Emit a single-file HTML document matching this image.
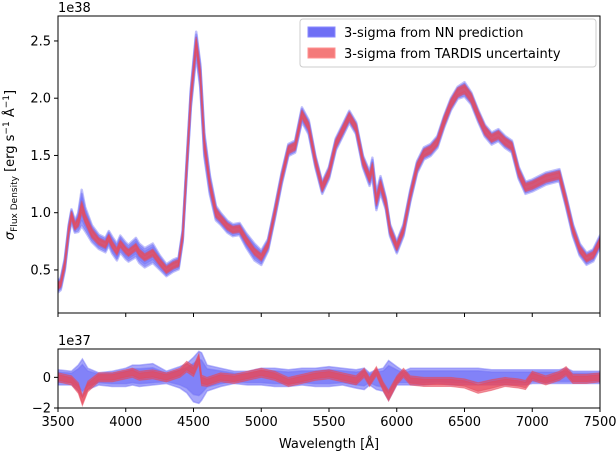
<!DOCTYPE html>
<html><head><meta charset="utf-8"><style>
body{margin:0;background:#fff;}
svg text{font-family:"DejaVu Sans","Liberation Sans",sans-serif;fill:#000;}
</style></head><body>
<svg id="chart" width="616" height="454" xmlns="http://www.w3.org/2000/svg">
<g id="topPanel"></g>
<g id="botPanel"></g>
<g>
<rect x="300" y="19" width="296" height="48" rx="3" fill="#fff" fill-opacity="0.8" stroke="#ccc"/>
<rect x="308" y="27" width="27" height="10" fill="#6f6ff5" stroke="#8888ff"/>
<text x="344" y="37" font-size="13">3-sigma from NN prediction</text>
<rect x="308" y="48" width="27" height="10" fill="#f47a7a" stroke="#ff9090"/>
<text x="344" y="58" font-size="13">3-sigma from TARDIS uncertainty</text>
</g>
</svg>
<script>
const wl=[3500,3520,3550,3580,3600,3625,3650,3675,3700,3750,3800,3850,3875,3900,3935,3960,4000,4020,4075,4100,4140,4200,4250,4300,4350,4390,4420,4450,4480,4520,4550,4580,4620,4665,4700,4750,4790,4840,4890,4950,5000,5050,5100,5150,5200,5250,5300,5350,5400,5450,5500,5550,5600,5650,5700,5750,5800,5820,5850,5880,5920,5950,6000,6050,6100,6150,6200,6250,6300,6350,6400,6450,6500,6550,6600,6650,6700,6750,6800,6850,6900,6950,7000,7100,7200,7250,7300,7350,7400,7450,7500];
const flux=[0.36,0.38,0.55,0.85,0.98,0.88,0.92,1.05,0.95,0.82,0.75,0.72,0.78,0.72,0.66,0.73,0.67,0.65,0.70,0.65,0.61,0.65,0.57,0.50,0.54,0.56,0.80,1.40,2.00,2.48,2.20,1.60,1.25,1.00,0.95,0.88,0.85,0.86,0.76,0.66,0.61,0.72,1.0,1.3,1.55,1.58,1.86,1.75,1.45,1.22,1.35,1.60,1.72,1.84,1.74,1.45,1.30,1.40,1.10,1.25,1.08,0.85,0.70,0.85,1.15,1.40,1.52,1.55,1.62,1.80,1.95,2.05,2.08,2.0,1.85,1.72,1.65,1.68,1.62,1.58,1.35,1.22,1.24,1.30,1.33,1.1,0.85,0.68,0.6,0.63,0.75];
const nnSig=[0.05,0.05,0.05,0.05,0.05,0.05,0.08,0.15,0.10,0.07,0.06,0.06,0.06,0.07,0.07,0.07,0.07,0.07,0.08,0.08,0.08,0.08,0.06,0.05,0.05,0.05,0.05,0.06,0.08,0.10,0.10,0.10,0.08,0.06,0.05,0.05,0.05,0.05,0.06,0.07,0.06,0.05,0.05,0.05,0.05,0.05,0.06,0.06,0.05,0.05,0.05,0.05,0.05,0.05,0.05,0.05,0.06,0.08,0.07,0.07,0.05,0.05,0.05,0.05,0.05,0.05,0.05,0.05,0.05,0.05,0.05,0.05,0.06,0.05,0.05,0.05,0.05,0.05,0.05,0.05,0.05,0.05,0.05,0.05,0.05,0.05,0.05,0.05,0.05,0.05,0.05];
const tdSig=[0.03,0.03,0.03,0.03,0.03,0.03,0.04,0.05,0.04,0.04,0.03,0.03,0.03,0.03,0.03,0.03,0.03,0.03,0.03,0.03,0.03,0.03,0.03,0.03,0.03,0.03,0.03,0.04,0.05,0.05,0.05,0.05,0.04,0.04,0.03,0.03,0.03,0.03,0.03,0.03,0.03,0.03,0.03,0.03,0.035,0.035,0.035,0.035,0.035,0.035,0.035,0.035,0.035,0.035,0.035,0.035,0.035,0.035,0.035,0.035,0.035,0.035,0.03,0.03,0.03,0.035,0.035,0.035,0.035,0.04,0.04,0.04,0.04,0.04,0.04,0.04,0.035,0.035,0.035,0.035,0.035,0.035,0.035,0.035,0.035,0.035,0.03,0.03,0.03,0.03,0.03];
const rwl=[3500,3600,3650,3680,3720,3800,3900,4000,4050,4100,4200,4300,4400,4450,4500,4540,4560,4600,4700,4800,4900,5000,5100,5200,5300,5400,5500,5600,5700,5760,5800,5850,5900,5940,6000,6050,6100,6200,6300,6400,6500,6600,6700,6800,6900,6950,7000,7100,7200,7250,7300,7400,7500];
const nnHi=[0.5,0.4,0.8,1.2,0.6,0.3,0.4,0.6,0.8,0.8,0.9,0.4,0.7,0.9,1.3,1.7,1.6,0.8,0.6,0.4,0.4,0.6,0.6,0.5,0.6,0.6,0.7,0.6,0.5,0.6,0.3,0.5,0.6,1.1,0.7,0.4,0.6,0.6,0.6,0.6,0.6,0.6,0.5,0.5,0.5,0.5,0.5,0.5,0.5,0.6,0.4,0.4,0.4];
const nnLo=[-0.5,-0.5,-0.9,-1.3,-0.8,-0.5,-0.6,-0.6,-0.5,-0.6,-0.5,-0.4,-0.7,-1.0,-1.6,-1.7,-1.5,-0.9,-0.6,-0.4,-0.5,-0.5,-0.6,-0.6,-0.5,-0.6,-0.6,-0.5,-0.7,-0.8,-0.5,-0.8,-0.9,-1.5,-0.5,-0.5,-0.5,-0.5,-0.4,-0.5,-0.5,-0.5,-0.5,-0.5,-0.5,-0.5,-0.4,-0.4,-0.4,-0.4,-0.4,-0.4,-0.4];
const tdMid=[0,-0.2,-0.7,-1.5,-0.6,0,0,0.2,0.3,0.1,0.2,0.0,0.3,0.7,0.4,1.2,-0.2,-0.3,0,-0.1,0.1,0.3,0.1,-0.3,-0.1,0.1,0.2,0,-0.2,0.3,-0.3,0.4,-0.6,-1.2,-0.2,0.3,-0.2,-0.3,-0.3,-0.3,-0.4,-0.7,-0.5,-0.3,-0.4,-0.5,0.1,-0.2,0.1,0.4,-0.1,-0.1,0];
const tdHalf=[0.3,0.3,0.35,0.35,0.35,0.3,0.3,0.3,0.3,0.3,0.3,0.3,0.3,0.35,0.35,0.35,0.35,0.3,0.3,0.3,0.3,0.3,0.3,0.3,0.3,0.3,0.3,0.3,0.3,0.3,0.3,0.3,0.3,0.35,0.3,0.3,0.3,0.3,0.3,0.3,0.3,0.35,0.35,0.3,0.3,0.3,0.3,0.3,0.3,0.3,0.3,0.3,0.3];
const xTicks=[3500,4000,4500,5000,5500,6000,6500,7000,7500];
const yTicks=[0.5,1.0,1.5,2.0,2.5];
const ryTicks=[-2,0];

const NS="http://www.w3.org/2000/svg";
const L=58,R=600,T=16,B=313,BT=349,BB=408;
const X=w=>L+(w-3500)*(R-L)/4000;
const Y=v=>B-(v-0.124)*(B-T)/(2.718-0.124);
const RY=v=>BB-(v+2)*(BB-BT)/3.85;
function mk(p,tag,a){const e=document.createElementNS(NS,tag);for(const k in a)e.setAttribute(k,a[k]);p.appendChild(e);return e;}
function band(xs,lo,hi,xf,yf){let d="M";xs.forEach((w,i)=>d+=xf(w).toFixed(1)+","+yf(hi[i]).toFixed(1)+" L");for(let i=xs.length-1;i>=0;i--)d+=xf(xs[i]).toFixed(1)+","+yf(lo[i]).toFixed(1)+(i?" L":" Z");return d;}
const topG=document.getElementById('topPanel'),botG=document.getElementById('botPanel');
mk(topG,'defs',{}).innerHTML='<clipPath id="ct"><rect x="58" y="16" width="542" height="297"/></clipPath><clipPath id="cb"><rect x="58" y="349" width="542" height="59"/></clipPath>';
const gt=mk(topG,'g',{'clip-path':'url(#ct)'});
for(const k of [1,0.75,0.5]){
const nb=mk(gt,'path',{d:band(wl,flux.map((f,i)=>f-nnSig[i]*k*1.1),flux.map((f,i)=>f+nnSig[i]*k),X,Y),fill:'#6b6bf7','fill-opacity':0.45,stroke:'#7474f7','stroke-width':2.5,'stroke-opacity':0.45,'stroke-linejoin':'round'});


}
for(const k of [1,0.6]){
const tb=mk(gt,'path',{d:band(wl,flux.map((f,i)=>f-tdSig[i]*k),flux.map((f,i)=>f+tdSig[i]*k),X,Y),fill:'#e84a5a','fill-opacity':0.55,stroke:'#e84a5a','stroke-width':1.5,'stroke-opacity':0.5,'stroke-linejoin':'round'});


}
const gb=mk(botG,'g',{'clip-path':'url(#cb)'});
for(const k of [1,0.7]){
const rb=mk(gb,'path',{d:band(rwl,nnLo.map(v=>v*k),nnHi.map(v=>v*k),X,RY),fill:'#6b6bf7','fill-opacity':0.6,stroke:'#7474f7','stroke-width':1.5,'stroke-opacity':0.5});


}
for(const k of [1,0.6]){
const rt=mk(gb,'path',{d:band(rwl,tdMid.map((m,i)=>m-tdHalf[i]*k),tdMid.map((m,i)=>m+tdHalf[i]*k),X,RY),fill:'#e8485a','fill-opacity':0.6,stroke:'#e8485a','stroke-width':1,'stroke-opacity':0.5});


}
const f1=mk(topG,'rect',{x:L,y:T,width:R-L,height:B-T,fill:'none',stroke:'#000','stroke-width':1});

const f2=mk(botG,'rect',{x:L,y:BT,width:R-L,height:BB-BT,fill:'none',stroke:'#000','stroke-width':1});

yTicks.forEach(v=>{mk(topG,'line',{x1:L-4,x2:L,y1:Y(v),y2:Y(v),stroke:'#000'});
const t=mk(topG,'text',{x:L-7,y:Y(v)+4.5,'text-anchor':'end','font-size':13});t.textContent=v.toFixed(1);
});
xTicks.forEach(v=>{mk(topG,'line',{x1:X(v),x2:X(v),y1:B,y2:B+4,stroke:'#000'});mk(botG,'line',{x1:X(v),x2:X(v),y1:BB,y2:BB+4,stroke:'#000'});
const t=mk(botG,'text',{x:X(v),y:BB+18,'text-anchor':'middle','font-size':13});t.textContent=v;
});
ryTicks.forEach(v=>{mk(botG,'line',{x1:L-4,x2:L,y1:RY(v),y2:RY(v),stroke:'#000'});
const t=mk(botG,'text',{x:L-7,y:RY(v)+4.5,'text-anchor':'end','font-size':13});t.textContent=v<0?'\u2212'+(-v):v;
});
let t=mk(topG,'text',{x:L,y:12,'font-size':13});t.textContent='1e38';

t=mk(botG,'text',{x:L,y:BT-4,'font-size':13});t.textContent='1e37';

t=mk(botG,'text',{x:(L+R)/2,y:448,'text-anchor':'middle','font-size':13});t.textContent='Wavelength [Å]';

t=mk(topG,'text',{transform:'translate(14,165) rotate(-90)','text-anchor':'middle','font-size':13});
t.innerHTML='<tspan font-style="italic">σ</tspan><tspan font-size="9" dy="3">Flux Density</tspan><tspan dy="-3"> [erg s</tspan><tspan font-size="9" dy="-5">−1</tspan><tspan dy="5"> Å</tspan><tspan font-size="9" dy="-5">−1</tspan><tspan dy="5">]</tspan>';

</script>
</body></html>
